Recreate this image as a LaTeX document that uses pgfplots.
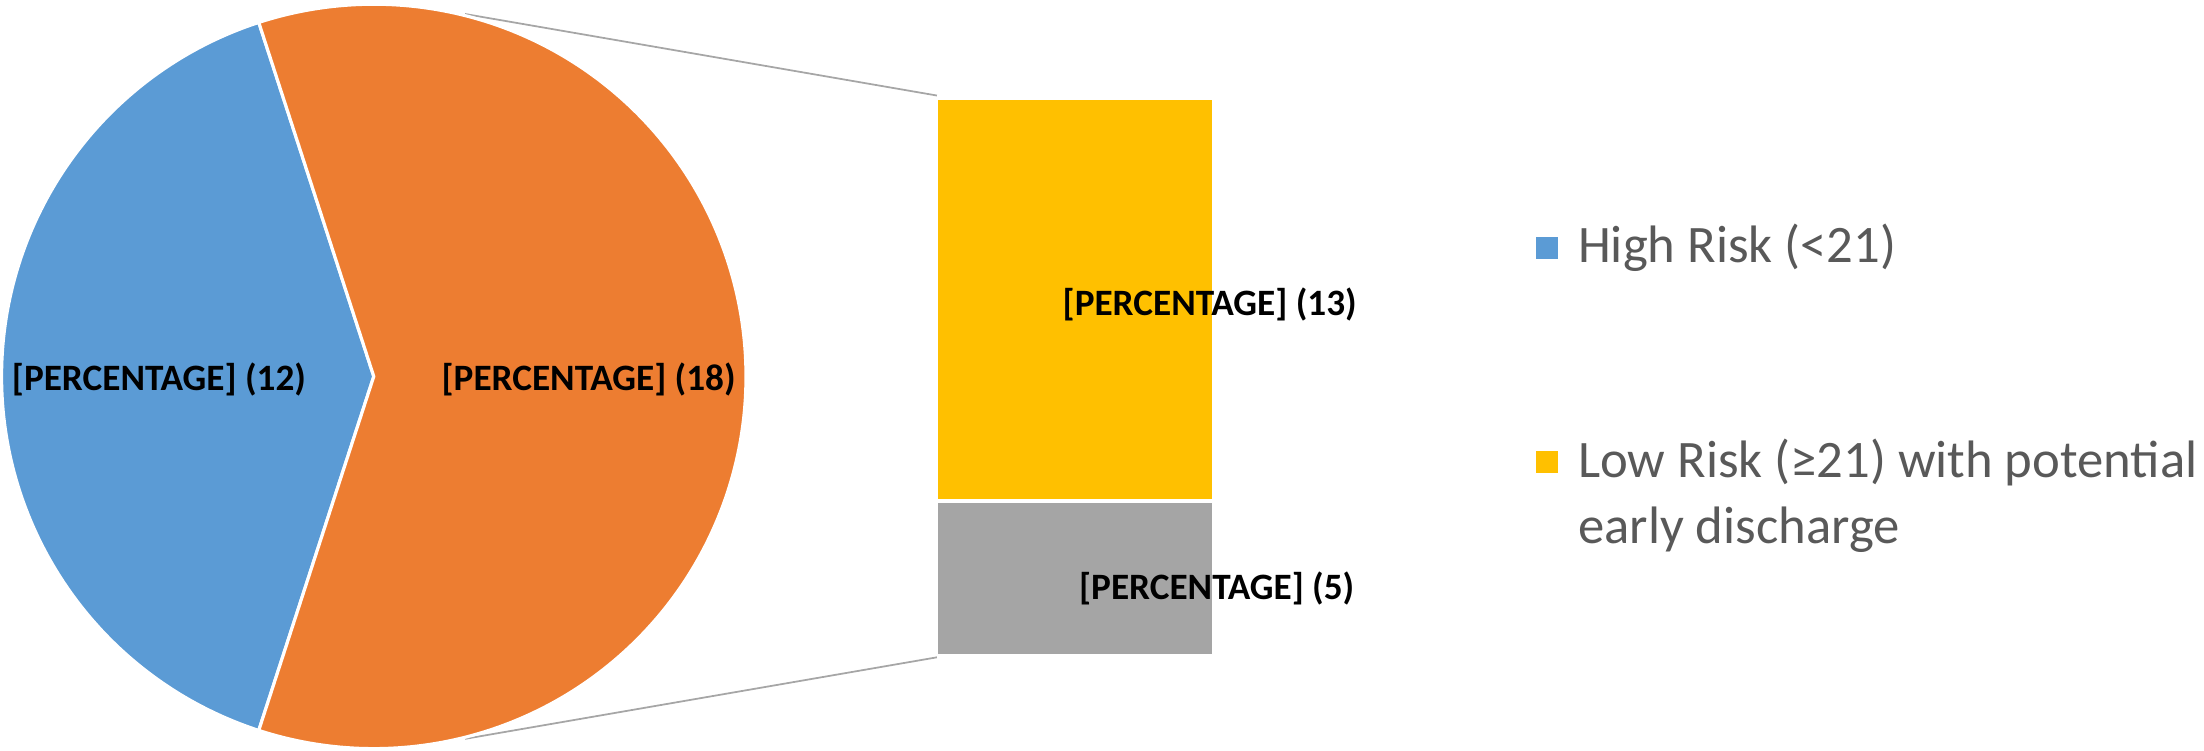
\documentclass[border=0pt]{standalone}
\usepackage{fontspec}
\setmainfont{Carlito}
\usepackage{pgfplots}
\usepackage{pgfplotstable}
\pgfplotsset{compat=1.18}
\definecolor{cblue}{HTML}{5B9BD5}
\definecolor{corange}{HTML}{ED7D31}
\definecolor{cyellow}{HTML}{FFC000}
\definecolor{cgray}{HTML}{A5A5A5}
\definecolor{cline}{HTML}{A6A6A6}
\definecolor{ctext}{HTML}{595959}

% pie: High Risk vs. Low Risk (total)
\pgfplotstableread{
label value
high 12
low  18
}\pietable
% bar: breakdown of the low-risk slice
\pgfplotstableread{
label value
other 5
early 13
}\bartable

\pgfplotstablegetelem{0}{value}\of\pietable \let\vHigh\pgfplotsretval
\pgfplotstablegetelem{1}{value}\of\pietable \let\vLow\pgfplotsretval
\pgfmathsetmacro{\spanHigh}{360*\vHigh/(\vHigh+\vLow)}
\pgfmathsetmacro{\aStart}{180-\spanHigh/2}
\pgfmathsetmacro{\aEnd}{180+\spanHigh/2}
\pgfmathsetmacro{\aLowEnd}{\aStart+360}

\newcommand{\lab}{\bfseries\fontsize{10.6}{12}\selectfont}
\newcommand{\leg}{\fontsize{15}{18.8}\selectfont\color{ctext}}

\begin{document}
\begin{tikzpicture}
% bar of the split slice
\begin{axis}[
  at={(93.6mm,9.36mm)}, anchor=south west,
  width=27.7mm, height=55.8mm, scale only axis,
  xmin=0.5, xmax=1.5, ymin=0, ymax=18,
  hide axis, clip=false,
  ybar stacked, bar width=1,
]
\addplot[fill=cgray, draw=white, line width=0.9pt] table[x expr=1, y=value] {
value
5
};
\addplot[fill=cyellow, draw=white, line width=0.9pt] table[x expr=1, y=value] {
value
13
};
\end{axis}

\begin{axis}[
  name=main,
  at={(0,0)}, anchor=south west,
  width=220.4mm, height=75mm, scale only axis,
  xmin=0, xmax=2204, ymin=0, ymax=750,
  hide axis, clip=false,
]
% invisible frame for bounding box
\addplot[draw=none, forget plot] coordinates {(0,0) (2204,750)};
% connector lines
\addplot[cline, line width=0.5pt] coordinates {(463.8,736) (936,654.4)};
\addplot[cline, line width=0.5pt] coordinates {(463.8,10.6) (936,92.2)};
% pie slices
\addplot[fill=cblue, draw=white, line width=0.9pt, domain=\aStart:\aEnd, samples=150, variable=\t]
  ({372.5+372.5*cos(t)}, {373.3+372.5*sin(t)}) -- (axis cs:372.5,373.3) -- cycle;
\addplot[fill=corange, draw=white, line width=0.9pt, domain=\aEnd:\aLowEnd, samples=220, variable=\t]
  ({372.5+372.5*cos(t)}, {373.3+372.5*sin(t)}) -- (axis cs:372.5,373.3) -- cycle;
% data labels
\node[font=\lab] at (axis cs:157.5,370.5) {[PERCENTAGE] (12)};
\node[font=\lab] at (axis cs:587.5,370.5) {[PERCENTAGE] (18)};
\node[font=\lab] at (axis cs:1209,445) {[PERCENTAGE] (13)};
\node[font=\lab] at (axis cs:1216,161) {[PERCENTAGE] (5)};
% legend
\fill[cblue] (axis cs:1536,491) rectangle (axis cs:1558,513);
\node[anchor=base west, font=\leg, inner sep=0pt] at (axis cs:1577,487) {High Risk (<21)};
\fill[cyellow] (axis cs:1536,276.5) rectangle (axis cs:1558,298.5);
\node[anchor=base west, font=\leg, inner sep=0pt] at (axis cs:1577,272.5) {Low Risk (≥21) with potential};
\node[anchor=base west, font=\leg, inner sep=0pt] at (axis cs:1577,206.5) {early discharge};
\end{axis}
\end{tikzpicture}
\end{document}
